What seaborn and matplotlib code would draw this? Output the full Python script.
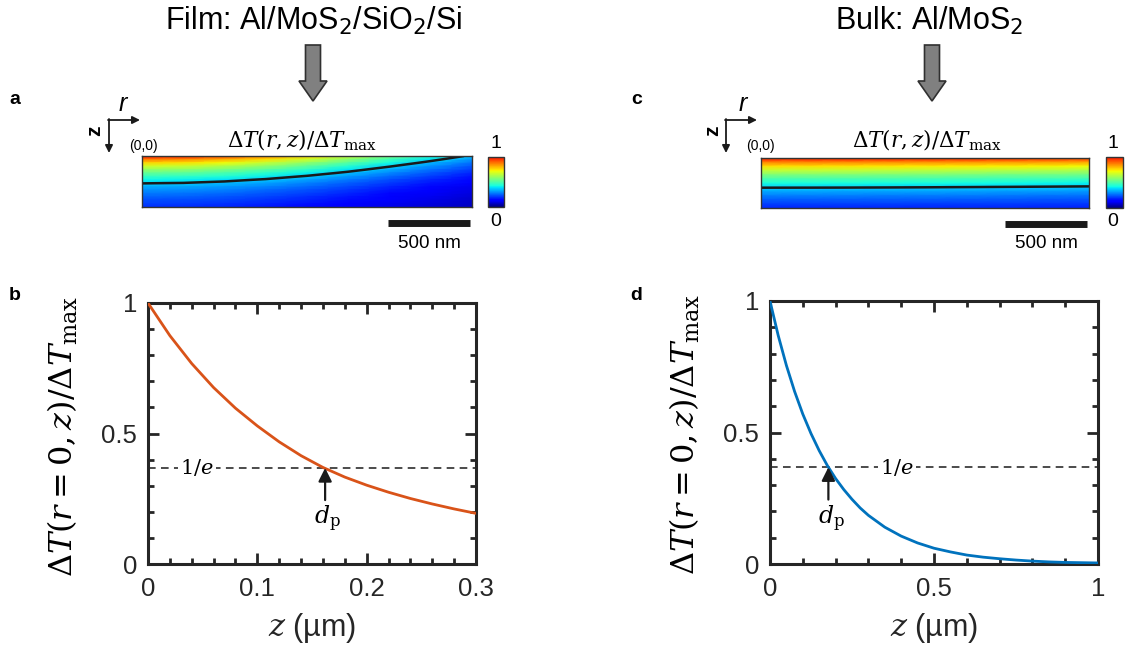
import numpy as np
import matplotlib
matplotlib.use("Agg")
import matplotlib.pyplot as plt
import seaborn as sns
from matplotlib.colors import ListedColormap
from matplotlib.patches import FancyArrow
from matplotlib.ticker import MultipleLocator

# Normalised temperature rise along the axis (r = 0) versus depth z (um)
film_z = [0.00, 0.02, 0.04, 0.06, 0.08, 0.10, 0.12, 0.14,
          0.16, 0.18, 0.20, 0.22, 0.24, 0.26, 0.28, 0.30]
film_dt = [1.000, 0.875, 0.768, 0.676, 0.597, 0.529, 0.468, 0.415,
           0.370, 0.333, 0.302, 0.275, 0.251, 0.230, 0.211, 0.194]

bulk_z = [0.000, 0.025, 0.050, 0.075, 0.100, 0.125, 0.150, 0.175, 0.200,
          0.225, 0.250, 0.275, 0.300, 0.35, 0.40, 0.45, 0.50, 0.55, 0.60,
          0.65, 0.70, 0.75, 0.80, 0.85, 0.90, 0.95, 1.00]
bulk_dt = [1.000, 0.869, 0.755, 0.656, 0.570, 0.496, 0.431, 0.374, 0.325,
           0.283, 0.246, 0.213, 0.185, 0.140, 0.106, 0.080, 0.060, 0.046,
           0.034, 0.026, 0.020, 0.015, 0.011, 0.008, 0.006, 0.005, 0.004]

# Radial surface profiles (um) used for the 2D maps
map_r = [0.0, 0.25, 0.50, 0.75, 1.00, 1.25, 1.50, 1.75, 2.00]
film_radial = [1.000, 0.984, 0.936, 0.863, 0.769, 0.663, 0.553, 0.447, 0.349]
bulk_radial = [1.000, 0.999, 0.997, 0.993, 0.988, 0.981, 0.973, 0.965, 0.956]

map_depth = 0.30          # um, depth shown in the maps
film_dp = 0.162           # um, penetration depth (film)
bulk_dp = 0.178           # um, penetration depth (bulk)
one_over_e = 1 / np.e

film_color = "#D95319"
bulk_color = "#0072BD"
ink = "#262626"

# jet-like map that tops out at bright red
heat_cmap = ListedColormap(plt.get_cmap("jet")(np.linspace(0.0, 0.89, 256)))

sns.set_theme(style="ticks")
plt.rcParams["font.family"] = ["Liberation Sans", "DejaVu Sans"]
plt.rcParams["mathtext.fontset"] = "dejavuserif"
plt.rcParams["text.color"] = "black"

W, H = 1127, 653
fig = plt.figure(figsize=(W / 100, H / 100), dpi=100)


def rect(x0, y0, x1, y1):
    return [x0 / W, 1 - y1 / H, (x1 - x0) / W, (y1 - y0) / H]


# pixel-space layer for annotations
ov = fig.add_axes([0, 0, 1, 1], zorder=5)
ov.set_xlim(0, W)
ov.set_ylim(H, 0)
ov.axis("off")


def profile_axes(ax, z, dt, color, xmax, xmajor, xminor, xticklabels, dp, e_label_x):
    sns.lineplot(x=z, y=dt, ax=ax, color=color, linewidth=2.0, zorder=3)
    ax.axhline(one_over_e, color="k", lw=1.1, ls=(0, (5, 3.5)), zorder=2)
    ax.text(e_label_x, one_over_e, r"$1/e$", fontsize=15, ha="center", va="center",
            bbox=dict(facecolor="white", edgecolor="none", pad=1.5), zorder=2.5)
    ax.annotate("", xy=(dp, one_over_e), xytext=(dp, 0.245),
                arrowprops=dict(arrowstyle="-|>", color="k", lw=1.6,
                                mutation_scale=20, shrinkA=0, shrinkB=0))
    ax.text(dp + 0.008 * xmax, 0.172, r"$d_{\mathrm{p}}$", fontsize=17,
            ha="center", va="center")
    ax.set_xlim(0, xmax)
    ax.set_ylim(0, 1)
    ax.set_xticks(np.arange(0, xmax + 1e-9, xmajor))
    ax.set_xticklabels(xticklabels)
    ax.set_yticks([0, 0.5, 1])
    ax.set_yticklabels(["0", "0.5", "1"])
    ax.xaxis.set_minor_locator(MultipleLocator(xminor))
    ax.yaxis.set_minor_locator(MultipleLocator(0.1))
    ax.tick_params(which="both", direction="in", top=True, right=True,
                   color=ink, width=2.0, labelsize=18.5, labelcolor=ink)
    ax.tick_params(which="major", length=8)
    ax.tick_params(which="minor", length=4.5)
    ax.tick_params(axis="x", pad=9)
    ax.tick_params(axis="y", pad=8)
    ax.set_xlabel("")
    ax.set_ylabel("")
    for s in ax.spines.values():
        s.set_visible(True)
        s.set_linewidth(2.2)
        s.set_color(ink)


ax_b = fig.add_axes(rect(148, 303, 476, 564))
profile_axes(ax_b, film_z, film_dt, film_color, 0.3, 0.1, 0.02,
             ["0", "0.1", "0.2", "0.3"], film_dp, 0.045)

ax_d = fig.add_axes(rect(770, 301, 1098, 564))
profile_axes(ax_d, bulk_z, bulk_dt, bulk_color, 1.0, 0.5, 0.1,
             ["0", "0.5", "1"], bulk_dp, 0.386)

ylab = r"$\Delta T(r=0,z)/\Delta T_{\mathrm{max}}$"
ov.text(63, 436, ylab, fontsize=23, rotation=90, ha="center", va="center")
ov.text(685, 434, ylab, fontsize=23, rotation=90, ha="center", va="center")
ov.text(312, 628, r"$z$ (µm)", fontsize=22, ha="center", va="center", color=ink)
ov.text(934, 628, r"$z$ (µm)", fontsize=22, ha="center", va="center", color=ink)


def heat_map(box, cbox, dt_z, radial, z_grid):
    ax = fig.add_axes(rect(*box))
    zz = np.array([z for z in z_grid if z <= map_depth + 1e-9])
    prof = np.array(dt_z[:len(zz)])
    field = np.outer(prof, np.array(radial))
    R, Z = np.meshgrid(map_r, zz)
    mesh = ax.pcolormesh(R, Z, field, shading="gouraud", cmap=heat_cmap,
                         vmin=0, vmax=1)
    ax.contour(R, Z, field, levels=[one_over_e], colors="k", linewidths=1.8)
    ax.set_xlim(0, 2.0)
    ax.set_ylim(map_depth, 0)
    ax.set_xticks([])
    ax.set_yticks([])
    for s in ax.spines.values():
        s.set_linewidth(1.0)
        s.set_color("#333333")
    # 500 nm scale bar
    ax.plot([1.49, 1.99], [0.395, 0.395], color="k", lw=5, solid_capstyle="butt",
            clip_on=False)
    ax.text(1.74, 0.515, "500 nm", fontsize=13.5, ha="center", va="center",
            clip_on=False)
    cax = fig.add_axes(rect(*cbox))
    cb = fig.colorbar(mesh, cax=cax, ticks=[])
    cb.outline.set_linewidth(1.0)
    cb.outline.set_edgecolor("#333333")
    return ax


heat_map((142, 156, 472, 207), (488, 157, 504, 207), film_dt, film_radial, film_z)
heat_map((761, 158, 1089, 208), (1106, 157, 1123, 208), bulk_dt, bulk_radial, bulk_z)

map_title = r"$\Delta T(r,z)/\Delta T_{\mathrm{max}}$"
ov.text(302, 140, map_title, fontsize=15.5, ha="center", va="center")
ov.text(927, 140, map_title, fontsize=15.5, ha="center", va="center")

for cx, label_y in ((496, 143), (1113, 143)):
    ov.text(cx, label_y, "1", fontsize=14, ha="center", va="center")
    ov.text(cx, 221, "0", fontsize=14, ha="center", va="center")

# coordinate indicators
for ox, lx, zx, r_x, o_x in ((109, 140, 95, 123, 143), (726, 757, 713, 743, 760)):
    ov.annotate("", xy=(ox, 153), xytext=(ox, 119),
                arrowprops=dict(arrowstyle="-|>", color="k", lw=1.3,
                                mutation_scale=11, shrinkA=0, shrinkB=0))
    ov.annotate("", xy=(lx, 120), xytext=(ox - 1, 120),
                arrowprops=dict(arrowstyle="-|>", color="k", lw=1.3,
                                mutation_scale=11, shrinkA=0, shrinkB=0))
    ov.text(r_x, 104, "r", fontsize=18, style="italic", ha="center", va="center")
    ov.text(zx, 131, "z", fontsize=15, rotation=90, ha="center", va="center",
            fontweight="bold")
    ov.text(o_x, 146, "(0,0)", fontsize=10, ha="center", va="center")

# headings and block arrows
ov.text(314, 21, "Film: Al/MoS$_\\mathsf{2}$/SiO$_\\mathsf{2}$/Si", fontsize=22,
        ha="center", va="center")
ov.text(929, 21, "Bulk: Al/MoS$_\\mathsf{2}$", fontsize=22, ha="center", va="center")
for ax_x in (313, 932):
    ov.add_patch(FancyArrow(ax_x, 45, 0, 56, width=15, head_width=28, head_length=20,
                            length_includes_head=True, facecolor="#808080",
                            edgecolor="#303030", linewidth=1.2))

for letter, (px, py) in {"a": (15, 100), "b": (15, 296),
                         "c": (637, 100), "d": (636, 296)}.items():
    ov.text(px, py, letter, fontsize=14, fontweight="bold", ha="center", va="center")

fig.savefig("out.png", dpi=100)
